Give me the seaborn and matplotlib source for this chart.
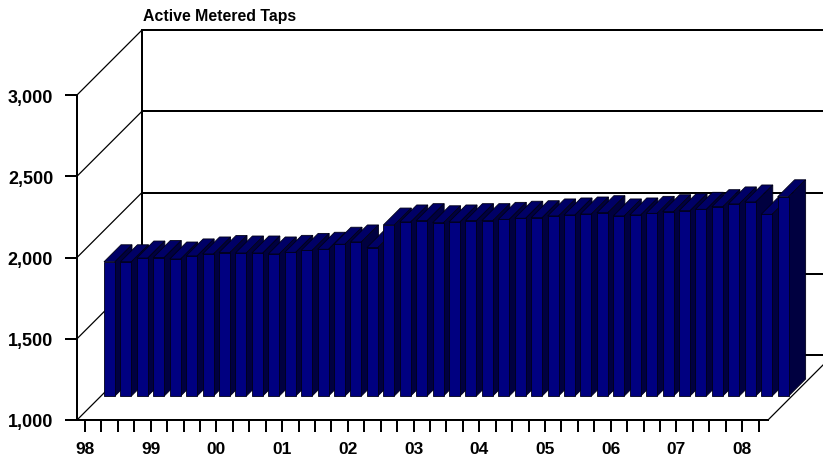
import matplotlib
matplotlib.use('Agg')
import matplotlib.pyplot as plt
import pandas as pd
import seaborn as sns

# tick labels, one per year (first quarter of each)
years = ['98', '99', '00', '01', '02', '03', '04', '05', '06', '07', '08']
y_ticks = [1000, 1500, 2000, 2500, 3000]

taps = [1826, 1826, 1849, 1852, 1843, 1862, 1874, 1883, 1880, 1880, 1874, 1884,
        1896, 1903, 1934, 1948, 1913, 2052, 2071, 2079, 2066, 2071, 2079, 2079,
        2087, 2094, 2097, 2108, 2114, 2120, 2128, 2108, 2114, 2124, 2134, 2140,
        2149, 2165, 2182, 2194, 2118, 2226]

W, H = 823, 456
FRONT = '#000080'
TOP = '#000066'
SIDE = '#000040'
EDGE = '#000018'
PITCH = 16.43   # px between bars
DEPTH = 17      # px, depth of a bar
LINE = 1.44     # 2 px at dpi 100


def axes_px(left, right, top, bottom, **kw):
    """axes placed by pixel edges, y measured from the top of the image"""
    return fig.add_axes([left / W, 1 - (bottom + 1) / H, (right - left) / W, (bottom - top) / H], **kw)


sns.set_style('white')
plt.rcParams['font.family'] = ['Liberation Sans', 'DejaVu Sans']

fig = plt.figure(figsize=(W / 100, H / 100), dpi=100, facecolor='white')

# back wall with the gridlines
ax_back = axes_px(142, 833, 30, 355, zorder=1)
ax_back.set_ylim(1000, 3000)
ax_back.set_yticks(y_ticks)
ax_back.set_xticks([])
ax_back.set_yticklabels([])
ax_back.grid(axis='y', color='black', linewidth=LINE, clip_on=False)
ax_back.tick_params(left=False)
for name in ['top', 'right', 'bottom']:
    ax_back.spines[name].set_visible(False)
ax_back.spines['left'].set_color('black')
ax_back.spines['left'].set_linewidth(LINE)

# plane of the bars, in between front axis and back wall
ax_bars = axes_px(101, 792, 71, 396, zorder=2)
ax_bars.patch.set_visible(False)
df = pd.DataFrame({'quarter': range(len(taps)), 'taps': taps})
sns.barplot(data=df, x='quarter', y='taps', color=FRONT, saturation=1, width=11 / PITCH,
            edgecolor=EDGE, linewidth=0.6, ax=ax_bars)
ax_bars.set_xlim((101 - 109.5) / PITCH, (792 - 109.5) / PITCH)
ax_bars.set_ylim(1000, 3000)
ax_bars.axis('off')

# depth of the bars in data units of that plane
dx = DEPTH / PITCH
dy = DEPTH * 2000 / 325
for i, bar in enumerate(ax_bars.patches):
    x0 = bar.get_x()
    x1 = x0 + bar.get_width()
    v = bar.get_height()
    bar.set_y(1000)
    bar.set_height(v - 1000)
    bar.set_clip_on(False)
    bar.set_zorder(10 + i)
    ax_bars.fill([x0, x1, x1 + dx, x0 + dx], [v, v, v + dy, v + dy], facecolor=TOP,
                 edgecolor=EDGE, linewidth=0.6, clip_on=False, zorder=9.5 + i)
    ax_bars.fill([x1, x1 + dx, x1 + dx, x1], [v, v + dy, 1000 + dy, 1000], facecolor=SIDE,
                 edgecolor=EDGE, linewidth=0.6, clip_on=False, zorder=9.5 + i)

# front axes with the ticks and labels
ax_front = axes_px(77, 768, 95, 420, zorder=3)
ax_front.patch.set_visible(False)
ax_front.set_xlim((77 - 85) / PITCH, (768 - 85) / PITCH)
ax_front.set_ylim(1000, 3000)
ax_front.set_yticks(y_ticks)
ax_front.set_yticklabels([f'{v:,}' for v in y_ticks], fontsize=13, fontweight='bold')
ax_front.set_xticks(range(len(taps)))
ax_front.set_xticklabels([years[i // 4] if i % 4 == 0 else '' for i in range(len(taps))],
                         fontsize=12.5, fontweight='bold')
ax_front.tick_params(axis='both', length=8.6, width=LINE, color='black', labelcolor='black',
                     bottom=True, left=True)
ax_front.tick_params(axis='y', pad=8.5)
ax_front.tick_params(axis='x', pad=6.5)
for name in ['top', 'right']:
    ax_front.spines[name].set_visible(False)
for name in ['left', 'bottom']:
    ax_front.spines[name].set_color('black')
    ax_front.spines[name].set_linewidth(LINE)

# diagonals joining front axis and back wall, left side and floor
fig.canvas.draw()
for v in y_ticks:
    p0 = ax_front.transData.transform((ax_front.get_xlim()[0], v))
    p1 = ax_back.transAxes.transform((0, (v - 1000) / 2000))
    ax_back.plot([p0[0], p1[0]], [p0[1], p1[1]], color='black', linewidth=0.9,
                 transform=None, clip_on=False)
p0 = ax_front.transAxes.transform((1, 0))
p1 = ax_back.transAxes.transform((1, 0))
ax_back.plot([p0[0], p1[0]], [p0[1], p1[1]], color='black', linewidth=0.9, transform=None, clip_on=False)

fig.text(143 / W, 1 - 16 / H, 'Active Metered Taps', fontsize=11.4, fontweight='bold',
         color='black', ha='left', va='center')

fig.savefig('out.png', dpi=100)
